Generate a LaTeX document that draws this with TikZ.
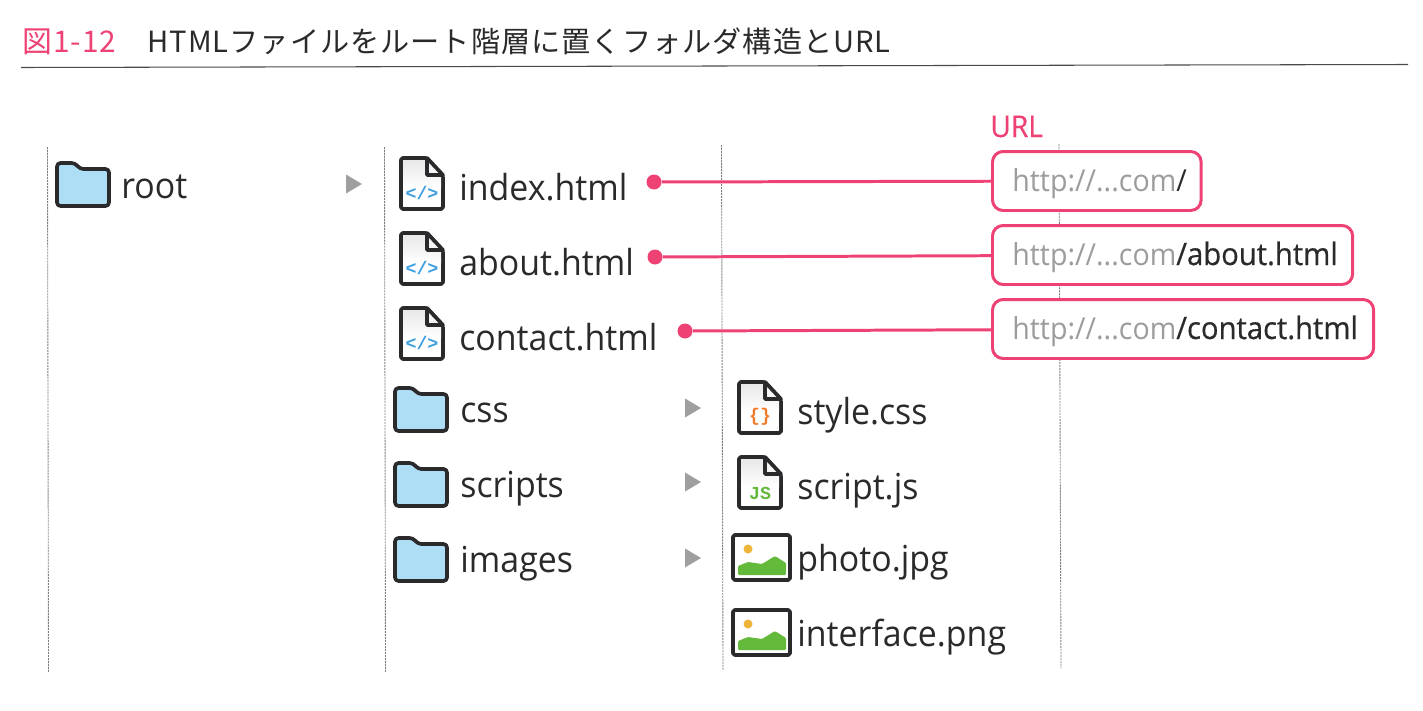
\documentclass[tikz,border=0pt]{standalone}
\usepackage{fontspec}
\setmainfont{Open Sans}[FakeStretch=0.945]
\newfontfamily\jpfont{Noto Sans CJK JP}[LetterSpace=3.5]
\newfontfamily\markfont{Liberation Mono}[BoldFont={Liberation Mono Bold}]
\newfontfamily\urlfont{Open Sans}[FakeStretch=0.945, FakeBold=0.5]
\usetikzlibrary{arrows.meta, positioning}

\definecolor{inkdark}{HTML}{2A2A2C}
\definecolor{linkpink}{HTML}{EE4274}
\definecolor{urlgray}{HTML}{9C9C9E}
\definecolor{folderblue}{HTML}{AEDDF6}
\definecolor{codeblue}{HTML}{3E9FDF}
\definecolor{codeorange}{HTML}{EE7B2A}
\definecolor{codegreen}{HTML}{62B93A}
\definecolor{sunyellow}{HTML}{EFB53A}

\tikzset{
	iconline/.style={draw=inkdark, line width=2.1pt, line join=round},
	itemlabel/.style={anchor=base west, inner sep=0pt, text=inkdark, font=\fontsize{20.4}{24}\selectfont},
	codemark/.style={inner sep=0pt, font=\markfont\bfseries\fontsize{10.4}{12}\selectfont},
	urlbox/.style={draw=linkpink, line width=1.7pt, rounded corners=6pt, fill=white, anchor=west,
		align=left, text=inkdark, inner xsep=11.3pt, inner ysep=0pt, text width=#1,
		minimum height=1.18cm, text height=0.5cm, text depth=0.1cm,
		font=\fontsize{17.2}{20}\selectfont},
	pinkdot/.style={circle, fill=linkpink, inner sep=0pt, minimum size=0.3cm},
	pinkline/.style={draw=linkpink, line width=1.7pt},
	columnline/.style={draw=gray, line width=0.5pt, dash pattern=on 1.2pt off 0.5pt},
	foldericon/.pic={
		\draw[iconline, fill=folderblue, rounded corners=2pt] (2,2) -- (20,2) -- (25,8) -- (54,8) -- (54,45) -- (2,45) -- cycle;
	},
	fileicon/.pic={
		\draw[iconline, fill=white, rounded corners=1pt] (2,2) -- (28,2) -- (44,20) -- (44,53) -- (2,53) -- cycle;
		\shade[top color=gray!18, bottom color=white] (4,4) -- (26,4) -- (26,21) -- (42,21) -- (42,32) -- (4,32) -- cycle;
		\draw[iconline, fill=gray!8] (28,2) -- (28,19) -- (44,19) -- cycle;
	},
	imageicon/.pic={
		\draw[iconline, fill=white, rounded corners=1pt] (2,2) rectangle (59,47);
		\fill[codegreen, rounded corners=0.6pt] (7,42) -- (7,33) -- (17,29) -- (31,31) -- (44,23) -- (55,30) -- (55,42) -- cycle;
		\fill[sunyellow] (17,16) circle (4.5);
	},
	treearrow/.pic={
		\fill[gray!75] (-8,-9.5) -- (8,0) -- (-8,9.5) -- cycle;
	},
}

\begin{document}
\begin{tikzpicture}[x=0.02cm, y=-0.02cm]
	\useasboundingbox (0,0) rectangle (1423,710);

	% Title and its rule
	\node[anchor=base west, inner sep=0pt, text=linkpink, font=\jpfont\fontsize{17}{20}\selectfont] (figno) at (22,52) {図1-12};
	\node[anchor=base west, inner sep=0pt, text=inkdark, font=\jpfont\fontsize{16.6}{20}\selectfont] (figtitle) at (147,52) {HTMLファイルをルート階層に置くフォルダ構造とURL};
	\coordinate (ruleL) at (21,67.5);
	\coordinate (ruleR) at (1408,64.5);
	\draw[draw=inkdark!85, line width=0.6pt] (ruleL) -- (ruleR);

	% Column lines
	\coordinate (colAtop) at (47.5,147);
	\coordinate (colAend) at (48.5,672);
	\coordinate (colBtop) at (384.5,147);
	\coordinate (colBend) at (385.5,672);
	\coordinate (colCtop) at (721.5,145);
	\coordinate (colCend) at (723,670);
	\coordinate (colDtop) at (1059,144);
	\coordinate (colDend) at (1061,668);
	\draw[columnline] (colAtop) -- (colAend);
	\draw[columnline] (colBtop) -- (colBend);
	\draw[columnline] (colCtop) -- (colCend);
	\draw[columnline] (colDtop) -- (colDend);

	% First column
	\pic at (55,161) {foldericon};
	\node[itemlabel] (root) at (121,198) {root};
	\pic at (354,184) {treearrow};

	% Second column, files
	\pic at (399,156) {fileicon};
	\node[codemark, text=codeblue] (indexmark) at (422,193) {</>};
	\node[itemlabel] (index) at (459,200) {index.html};
	\pic at (399,231) {fileicon};
	\node[codemark, text=codeblue] (aboutmark) at (422,268) {</>};
	\node[itemlabel] (about) at (459,275) {about.html};
	\pic at (399,306) {fileicon};
	\node[codemark, text=codeblue] (contactmark) at (422,343) {</>};
	\node[itemlabel] (contact) at (459,350) {contact.html};

	% Second column, folders
	\pic at (393,386) {foldericon};
	\node[itemlabel] (css) at (460,422) {css};
	\pic at (693,408) {treearrow};
	\pic at (393,461) {foldericon};
	\node[itemlabel] (scripts) at (460,497) {scripts};
	\pic at (693,482) {treearrow};
	\pic at (393,536) {foldericon};
	\node[itemlabel] (images) at (460,572) {images};
	\pic at (693,558) {treearrow};

	% Third column
	\pic at (737,380) {fileicon};
	\node[codemark, text=codeorange] (stylemark) at (760,417) {\{\}};
	\node[itemlabel] (style) at (797,424) {style.css};
	\pic at (737,455) {fileicon};
	\node[codemark, text=codegreen] (scriptmark) at (760,493) {JS};
	\node[itemlabel] (script) at (797,499) {script.js};
	\pic at (731,533) {imageicon};
	\node[itemlabel] (photo) at (797,571) {photo.jpg};
	\pic at (731,608) {imageicon};
	\node[itemlabel] (interface) at (797,646) {interface.png};

	% URL boxes
	\node[anchor=base west, inner sep=0pt, text=linkpink, font=\urlfont\fontsize{17}{20}\selectfont] (urltitle) at (990,137) {URL};
	\node[urlbox=3.38cm] (urlindex) at (991,181) {\textcolor{urlgray}{http://...com}/};
	\node[urlbox=6.41cm] (urlabout) at (991,255) {\textcolor{urlgray}{http://...com}{\urlfont\fontsize{17.6}{20}\selectfont/about.html}};
	\node[urlbox=6.83cm] (urlcontact) at (991,329) {\textcolor{urlgray}{http://...com}{\urlfont\fontsize{17.6}{20}\selectfont/contact.html}};

	% Dots and their lines
	\node[pinkdot] (dotindex) at (654,182) {};
	\node[pinkdot] (dotabout) at (655,257) {};
	\node[pinkdot] (dotcontact) at (685,331) {};
	\draw[pinkline] (dotindex) -- (urlindex);
	\draw[pinkline] (dotabout) -- (urlabout);
	\draw[pinkline] (dotcontact) -- (urlcontact);
\end{tikzpicture}
\end{document}
